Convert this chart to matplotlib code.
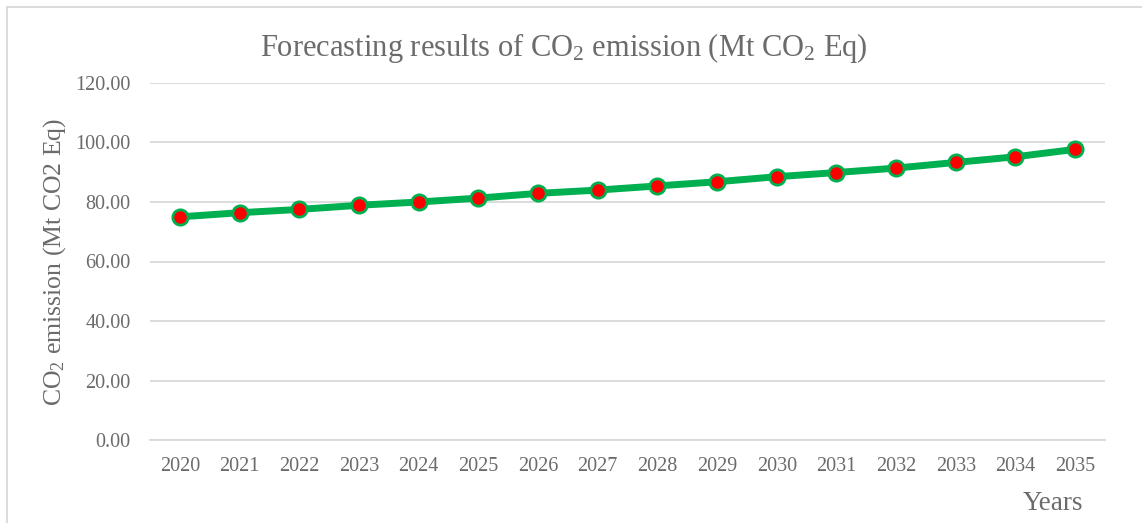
import matplotlib.pyplot as plt
from matplotlib.lines import Line2D

years = [str(y) for y in range(2020, 2036)]
emission = [75.0, 76.4, 77.5, 78.9, 80.0, 81.3, 82.9, 84.0,
            85.4, 86.8, 88.5, 89.9, 91.4, 93.3, 95.2, 97.7]
yticks = [0, 20, 40, 60, 80, 100, 120]

plt.rcParams['font.family'] = ['Liberation Serif', 'DejaVu Serif']
plt.rcParams['mathtext.fontset'] = 'custom'
plt.rcParams['mathtext.rm'] = 'Liberation Serif'
plt.rcParams['mathtext.it'] = 'Liberation Serif:italic'
gray = '#6b6b6b'

fig = plt.figure(figsize=(11.42, 5.23), dpi=100)
ax = fig.add_axes([150 / 1142, 1 - 440 / 523, 955 / 1142, 357 / 523])

x = list(range(len(years)))
ax.plot(x, emission, color='#00b050', lw=5, marker='o', markersize=11,
        markerfacecolor='#ff0000', markeredgecolor='#00b050', markeredgewidth=2,
        solid_capstyle='round', zorder=3)

ax.set_xlim(-0.5, len(years) - 0.5)
ax.set_ylim(0, 120)
ax.set_yticks(yticks)
ax.set_yticklabels([f"{v:.2f}" for v in yticks])
ax.set_xticks(x)
ax.set_xticklabels(years)
ax.grid(axis='y', color='#d9d9d9', lw=1.3)
ax.set_axisbelow(True)
for s in ['top', 'right', 'left']:
    ax.spines[s].set_visible(False)
ax.spines['bottom'].set_color('#d9d9d9')
ax.spines['bottom'].set_linewidth(1.3)
ax.tick_params(axis='both', length=0, colors=gray, labelsize=14.5)
ax.tick_params(axis='x', pad=12)
ax.tick_params(axis='y', pad=14)

fig.text(564 / 1142, 1 - 48 / 523, r'Forecasting results of CO$_\mathrm{2}$ emission (Mt CO$_\mathrm{2}$ Eq)',
         ha='center', va='center', fontsize=22, color=gray)
fig.text(55 / 1142, 1 - 262 / 523, r'CO$_\mathrm{2}$ emission (Mt CO2 Eq)', rotation=90,
         ha='center', va='center', fontsize=18.5, color=gray)
fig.text(1053 / 1142, 1 - 503 / 523, 'Years', ha='center', va='center',
         fontsize=19.5, color=gray)

fig.add_artist(Line2D([7 / 1142, 1], [1 - 7 / 523, 1 - 7 / 523], color='#d9d9d9', lw=1.3))
fig.add_artist(Line2D([7 / 1142, 7 / 1142], [0, 1 - 7 / 523], color='#d9d9d9', lw=1.3))

fig.savefig('out.png', dpi=100)
